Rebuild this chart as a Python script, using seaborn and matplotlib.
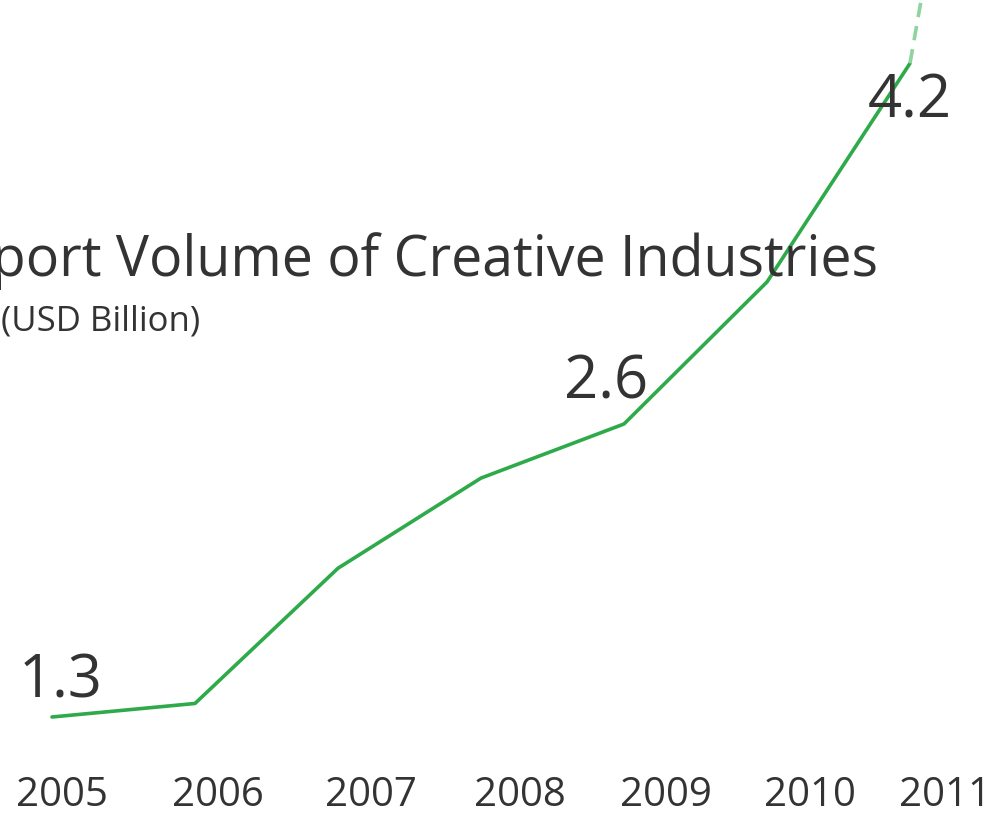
import matplotlib
matplotlib.use("Agg")
import matplotlib.pyplot as plt
import matplotlib.transforms as mtransforms
import seaborn as sns
import pandas as pd

years = [2005, 2006, 2007, 2008, 2009, 2010, 2011]
values = [1.3, 1.36, 1.96, 2.36, 2.6, 3.23, 4.2]
proj_years = [2011, 2012]
proj_values = [4.2, 7.8]
labelled = {2005: "1.3", 2009: "2.6", 2011: "4.2"}
title = "Export Volume of Creative Industries"
subtitle = "(USD Billion)"

# layout only: horizontal nudge of each year label (pixels)
label_nudge_px = [10, 23, 33, 39, 42, 43, 35]

sns.set_theme(style="white")
plt.rcParams['font.family'] = ['Open Sans', 'DejaVu Sans']
TXT = "#333333"
GREEN = "#2eaa4b"

fig = plt.figure(figsize=(10.08, 8.15), dpi=100)
ax = fig.add_axes([0, 55/815, 1, 760/815])
df = pd.DataFrame({"year": years, "value": values})
dfp = pd.DataFrame({"year": proj_years, "value": proj_values})
sns.lineplot(data=df, x="year", y="value", ax=ax, color=GREEN, linewidth=2.6)
sns.lineplot(data=dfp, x="year", y="value", ax=ax, color="#8fd49e", linewidth=2.6,
             linestyle=(0, (4, 2.5)))
for l in ax.lines:
    l.set_clip_on(False)

ax.set_xlim(2005 - 52/143, 2005 + (1008-52)/143)
ax.set_ylim(1.3 - (760-717)/225.4, 1.3 + 717/225.4)
ax.set_xticks(years)
ax.set_xticklabels([str(y) for y in years])
ax.set_yticks([])
ax.set_xlabel("")
ax.set_ylabel("")
ax.tick_params(axis="x", length=0, pad=11, labelsize=29, labelcolor=TXT)
for lab, dx in zip(ax.get_xticklabels(), label_nudge_px):
    lab.set_transform(lab.get_transform() + mtransforms.ScaledTranslation(dx/100, 0, fig.dpi_scale_trans))
for s in ax.spines.values():
    s.set_visible(False)

offsets = {2005: (6, 4), 2009: (-13, 8), 2011: (0, -49)}
for y, v in zip(years, values):
    if y in labelled:
        ax.annotate(labelled[y], (y, v), xytext=offsets[y], textcoords="offset points",
                    ha="center", va="bottom", fontsize=43, color=TXT)

fig.text(878/1008, 1 - 276/815, title, ha="right", va="baseline", fontsize=40, color=TXT)
fig.text(1/1008, 1 - 330/815, subtitle, ha="left", va="baseline", fontsize=25, color=TXT)

fig.savefig("out.png", dpi=100)
